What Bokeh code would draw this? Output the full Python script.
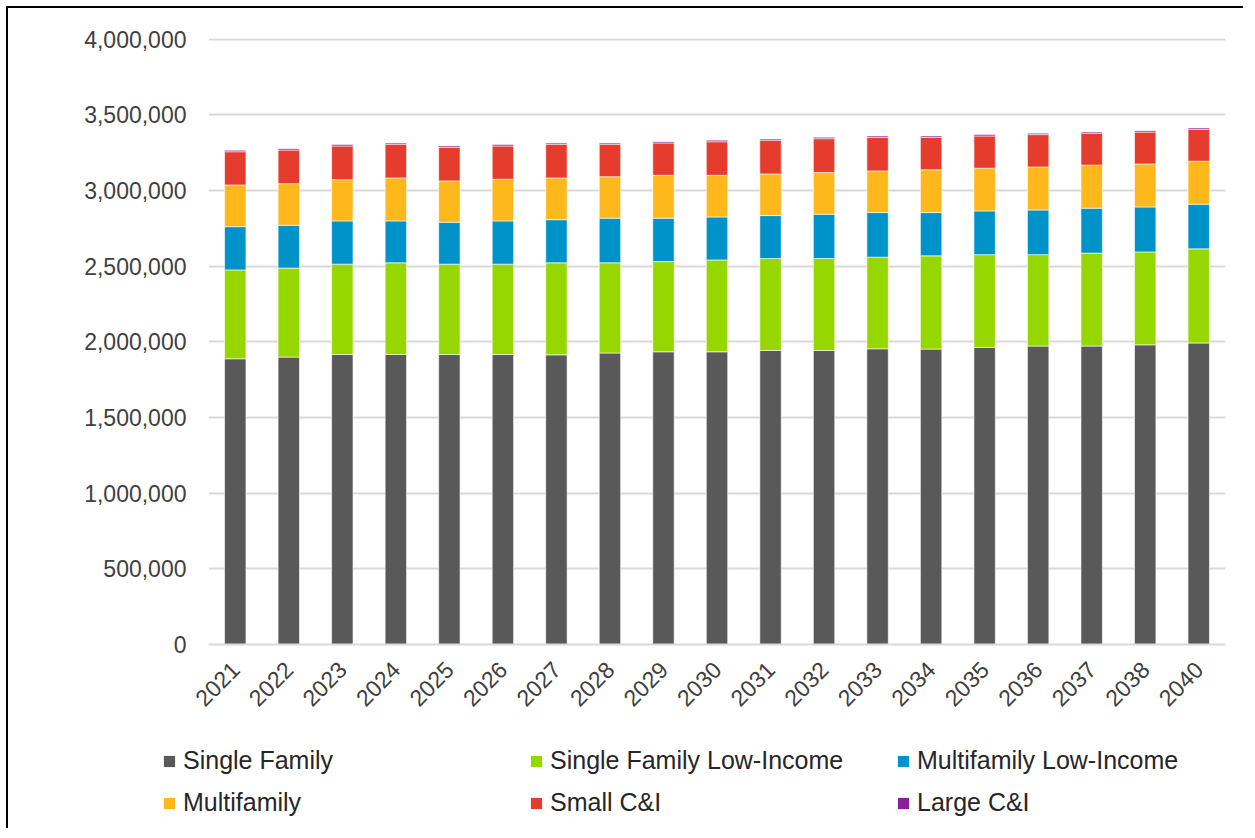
import math
from bokeh.plotting import figure
from bokeh.models import (ColumnDataSource, Legend, LegendItem, NumeralTickFormatter,
                          SingleIntervalTicker, Range1d)
from bokeh.embed import file_html
from bokeh.resources import INLINE

years = ["2021", "2022", "2023", "2024", "2025", "2026", "2027", "2028", "2029", "2030",
         "2031", "2032", "2033", "2034", "2035", "2036", "2037", "2038", "2040"]

single_family = [1888000, 1899000, 1916000, 1916000, 1916000, 1916000, 1914000, 1926000, 1934000, 1934000,
                 1943000, 1943000, 1954000, 1952000, 1963000, 1972000, 1972000, 1980000, 1992000]
single_family_li = [587000, 588000, 597000, 606000, 597000, 597000, 608000, 596000, 596000, 607000,
                    607000, 607000, 605000, 616000, 613000, 604000, 614000, 614000, 622000]
multifamily_li = [286000, 283000, 286000, 277000, 277000, 286000, 285000, 295000, 287000, 284000,
                  284000, 293000, 295000, 286000, 289000, 295000, 297000, 297000, 295000]
multifamily = [275000, 275000, 272000, 284000, 273000, 275000, 276000, 274000, 283000, 275000,
               275000, 275000, 275000, 283000, 282000, 284000, 284000, 284000, 284000]
small_ci = [220000, 222000, 223000, 222000, 222000, 220000, 222000, 214000, 214000, 222000,
            223000, 224000, 222000, 214000, 213000, 214000, 211000, 211000, 211000]
large_ci = [9000, 9000, 9000, 8000, 9000, 9000, 8000, 8000, 8000, 10000,
            8000, 9000, 9000, 9000, 9000, 9000, 8000, 9000, 9000]

series = ["Single Family", "Single Family Low-Income", "Multifamily Low-Income",
          "Multifamily", "Small C&I", "Large C&I"]
colors = ["#595959", "#97D700", "#0093C9", "#FFB81C", "#E53C2E", "#8B1F9A"]

source = ColumnDataSource(data={
    "year": years,
    series[0]: single_family,
    series[1]: single_family_li,
    series[2]: multifamily_li,
    series[3]: multifamily,
    series[4]: small_ci,
    series[5]: large_ci,
})

font = "Liberation Sans"

# ---- main chart ----
p = figure(x_range=years, y_range=Range1d(0, 4004000), width=1237, height=712,
           output_backend="svg", toolbar_location=None,
           min_border_left=200, min_border_right=20, min_border_top=30, min_border_bottom=76)
p.styles = {"border-top": "2px solid black", "border-left": "2px solid black",
            "margin-left": "6px", "margin-top": "6px"}
p.outline_line_color = None
p.x_range.range_padding = 0

renderers = p.vbar_stack(series, x="year", width=0.4, color=colors, source=source,
                         line_color="white", line_width=0.6)

p.yaxis.ticker = SingleIntervalTicker(interval=500000)
p.yaxis.formatter = NumeralTickFormatter(format="0,0")
p.yaxis.axis_line_color = None
p.yaxis.major_tick_line_color = None
p.yaxis.minor_tick_line_color = None
p.yaxis.major_tick_out = 0
p.yaxis.major_label_standoff = 18
p.yaxis.major_label_text_font = font
p.yaxis.major_label_text_font_size = "23px"
p.yaxis.major_label_text_color = "#404040"

p.xaxis.axis_line_color = "#D9D9D9"
p.xaxis.axis_line_width = 2
p.xaxis.major_tick_line_color = None
p.xaxis.minor_tick_line_color = None
p.xaxis.major_tick_out = 0
p.xaxis.major_label_orientation = math.pi / 4
p.xaxis.major_label_standoff = 21
p.xaxis.major_label_text_font = font
p.xaxis.major_label_text_font_size = "23px"
p.xaxis.major_label_text_color = "#404040"

p.xgrid.grid_line_color = None
p.ygrid.grid_line_color = "#D9D9D9"
p.ygrid.grid_line_width = 2

# ---- legend strip (separate root so its frame spans the full width) ----
lg = figure(width=1237, height=110, x_range=Range1d(0, 1), y_range=Range1d(0, 1),
            output_backend="svg", toolbar_location=None,
            x_axis_location=None, y_axis_location=None,
            min_border_left=0, min_border_right=0, min_border_top=0, min_border_bottom=0)
lg.styles = {"border-left": "2px solid black", "margin-left": "6px"}
lg.outline_line_color = None
lg.grid.visible = False

# legend swatches: zero-height proxies that only carry the series colours
swatches = [lg.vbar(x=[0.5], top=[0], width=0, fill_color=c, line_alpha=0) for c in colors]

rows = [[0, 1, 2], [3, 4, 5]]
ys = [53, 11]
for row, yy in zip(rows, ys):
    items = [LegendItem(label=series[i], renderers=[swatches[i]]) for i in row]
    leg = Legend(items=items, orientation="horizontal", location=(154, yy),
                 glyph_width=14, glyph_height=14, label_standoff=7, spacing=1,
                 label_width=345, label_height=24, padding=0, margin=0,
                 label_text_font=font, label_text_font_size="25px",
                 label_text_color="#262626",
                 background_fill_alpha=0, border_line_color=None)
    lg.add_layout(leg, "center")

open("out.html", "w").write(file_html([p, lg], INLINE))
